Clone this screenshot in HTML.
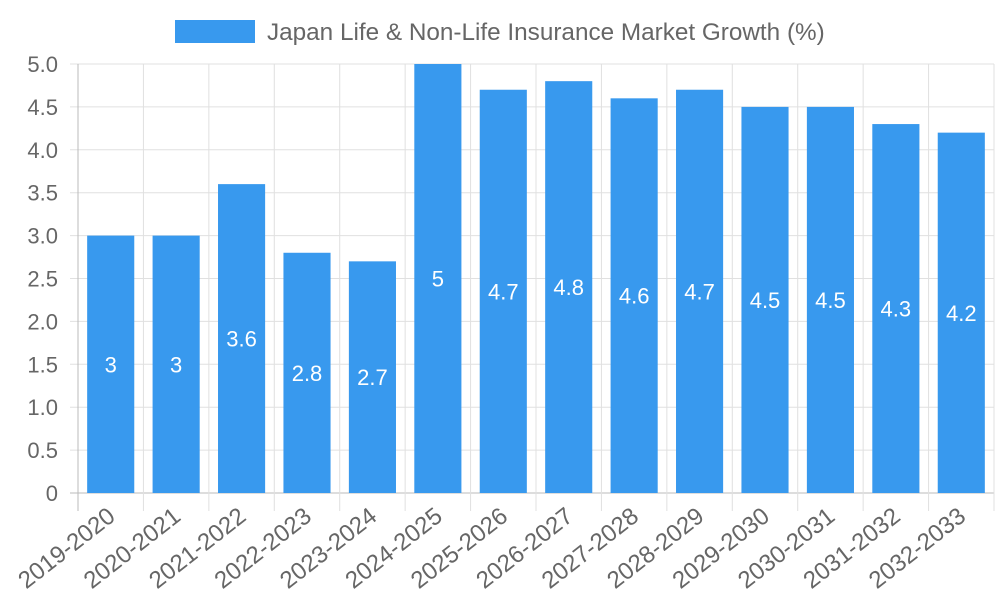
<!DOCTYPE html>
<html><head><meta charset="utf-8"><style>
html,body{margin:0;padding:0;background:#fff;}
svg text{font-family:"Liberation Sans",sans-serif;}
</style></head><body>
<svg id="chart" width="1000" height="600" xmlns="http://www.w3.org/2000/svg">
<g id="legend">
<rect x="175" y="20" width="80" height="23" fill="#3899ee"/>
<text x="267" y="40" font-size="24.3" fill="#666">Japan Life &amp; Non-Life Insurance Market Growth (%)</text>
</g>
<g id="grid"></g><g id="bars"></g><g id="labels"></g>
</svg>
<script>
const categories=["2019-2020","2020-2021","2021-2022","2022-2023","2023-2024","2024-2025","2025-2026","2026-2027","2027-2028","2028-2029","2029-2030","2030-2031","2031-2032","2032-2033"];
const values=[3,3,3.6,2.8,2.7,5,4.7,4.8,4.6,4.7,4.5,4.5,4.3,4.2];
const yTicks=[0,0.5,1,1.5,2,2.5,3,3.5,4,4.5,5];
const yTickLabels=["0","0.5","1.0","1.5","2.0","2.5","3.0","3.5","4.0","4.5","5.0"];
const NS="http://www.w3.org/2000/svg";
const L=78,R=994,T=64,B=493,yMax=5;
const bw=(R-L)/categories.length;
const y=v=>B-(v/yMax)*(B-T);
const x=i=>L+i*bw;
function mk(tag,attrs,parent,text){const e=document.createElementNS(NS,tag);for(const k in attrs)e.setAttribute(k,attrs[k]);if(text!==undefined)e.textContent=text;document.getElementById(parent).appendChild(e);return e;}
yTicks.forEach((t,i)=>{
 const g=mk('line',{x1:L-8,x2:R,y1:y(t),y2:y(t),stroke:i===0?'#bbb':'#e0e0e0','stroke-width':1},'grid');
 
 
 const tx=mk('text',{x:L-20,y:y(t)+8,'font-size':22,fill:'#666','text-anchor':'end'},'labels',yTickLabels[i]);
 
 
});
for(let i=0;i<=categories.length;i++){
 const g=mk('line',{x1:x(i),x2:x(i),y1:T,y2:B+18,stroke:i===0?'#bbb':'#e0e0e0','stroke-width':1},'grid');
 
 
}
categories.forEach((c,i)=>{
 const cx=x(i)+bw/2, w=bw*0.72;
 const r=mk('rect',{x:cx-w/2,y:y(values[i]),width:w,height:B-y(values[i]),fill:'#3899ee'},'bars');
 
 
 const v=mk('text',{x:cx,y:(y(values[i])+B)/2+8,'font-size':22,fill:'#fff','text-anchor':'middle'},'labels',String(values[i]));
 
 
 const t=mk('text',{x:cx+6,y:B+26,'font-size':24,fill:'#666','text-anchor':'end',transform:`rotate(-38 ${cx+6} ${B+26})`},'labels',c);
 
 
});
</script>
</body></html>
